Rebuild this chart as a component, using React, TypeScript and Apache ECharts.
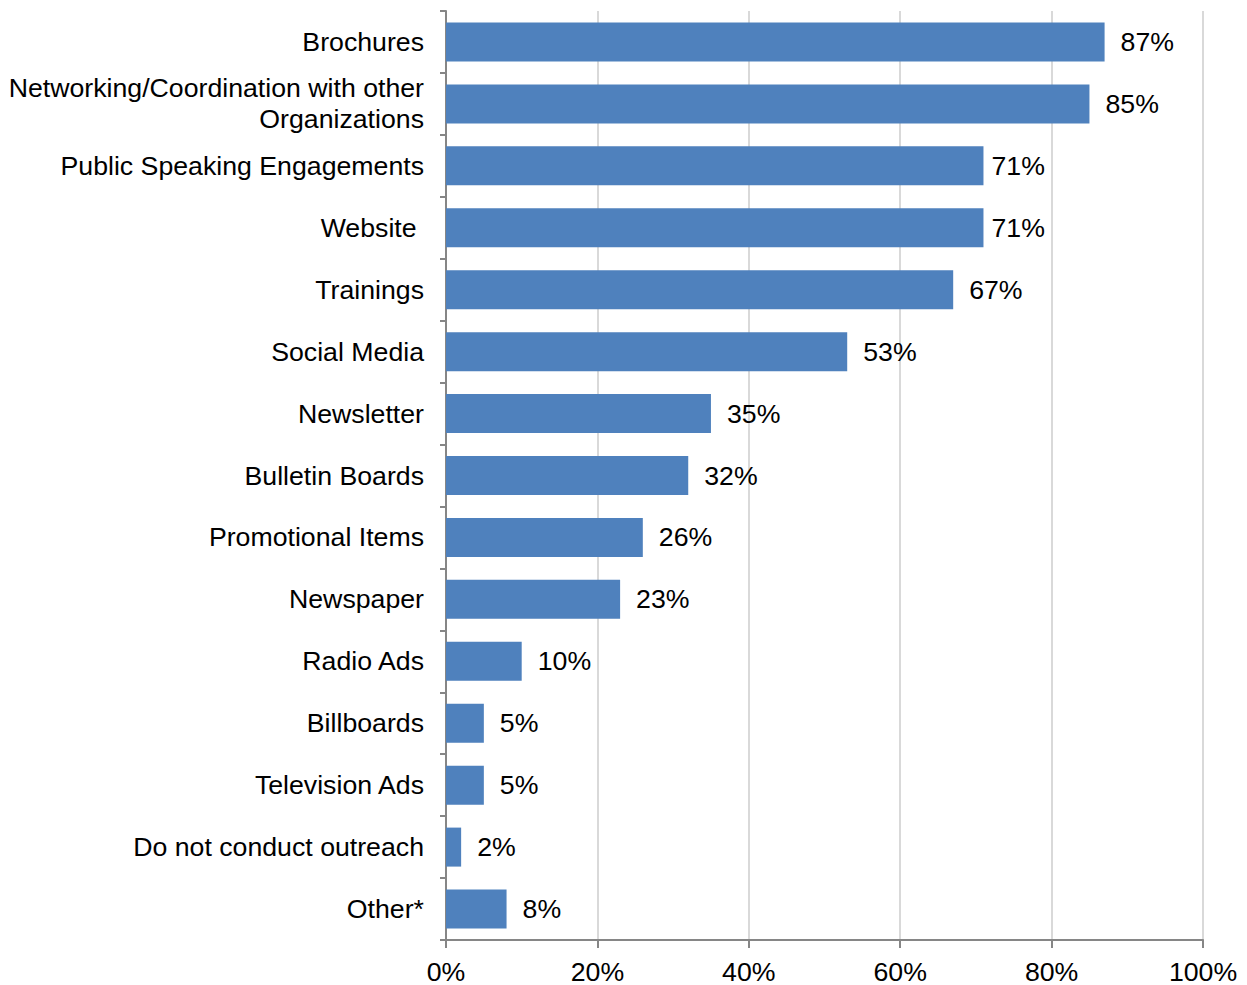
import React, { useEffect, useRef } from "react";
import * as echarts from "echarts";

const categories = [
  "Brochures",
  "Networking/Coordination with other\nOrganizations",
  "Public Speaking Engagements",
  "Website ",
  "Trainings",
  "Social Media",
  "Newsletter",
  "Bulletin Boards",
  "Promotional Items",
  "Newspaper",
  "Radio Ads",
  "Billboards",
  "Television Ads",
  "Do not conduct outreach",
  "Other*",
];
const values = [87, 85, 71, 71, 67, 53, 35, 32, 26, 23, 10, 5, 5, 2, 8];
// categories whose value labels sit closer to the bar end in the original
const closeLabelCategories = ["Public Speaking Engagements", "Website "];

export default function App() {
  const ref = useRef<HTMLDivElement>(null);
  useEffect(() => {
    const chart = echarts.init(ref.current!, null, { renderer: "svg" });
    const font = "'Liberation Sans', Arial, sans-serif";
    const fs = 26.7;
    const seriesData = values.map((v, i) =>
      closeLabelCategories.includes(categories[i])
        ? { value: v, label: { distance: 8 } }
        : v
    );
    chart.setOption({
      animation: false,
      grid: {
        left: 446,
        right: 44,
        top: 11,
        bottom: 45,
        containLabel: false,
        outerBoundsMode: "none",
      },
      xAxis: {
        type: "value",
        min: 0,
        max: 100,
        interval: 20,
        axisLine: { show: true, lineStyle: { color: "#868686", width: 2 } },
        axisTick: { show: true, length: 8, lineStyle: { color: "#868686", width: 2 } },
        splitLine: { show: true, lineStyle: { color: "#d9d9d9", width: 2 } },
        axisLabel: {
          formatter: "{value}%",
          color: "#000",
          fontSize: fs,
          fontFamily: font,
          margin: 18,
        },
      },
      yAxis: {
        type: "category",
        inverse: true,
        data: categories,
        axisLine: { show: true, lineStyle: { color: "#868686", width: 2 } },
        axisTick: { show: true, length: 6, inside: false, lineStyle: { color: "#868686", width: 2 } },
        axisLabel: {
          color: "#000",
          fontSize: fs,
          fontFamily: font,
          margin: 22,
          lineHeight: 31,
          align: "right",
        },
      },
      series: [
        {
          type: "bar",
          data: seriesData,
          barWidth: 39,
          itemStyle: { color: "#4f81bd" },
          label: {
            show: true,
            position: "right",
            distance: 16,
            formatter: "{c}%",
            color: "#000",
            fontSize: fs,
            fontFamily: font,
          },
        },
      ],
    });
    return () => chart.dispose();
  }, []);
  return (
    <div
      ref={ref}
      style={{ position: "absolute", left: 0, top: 0, width: 1247, height: 985 }}
    />
  );
}
